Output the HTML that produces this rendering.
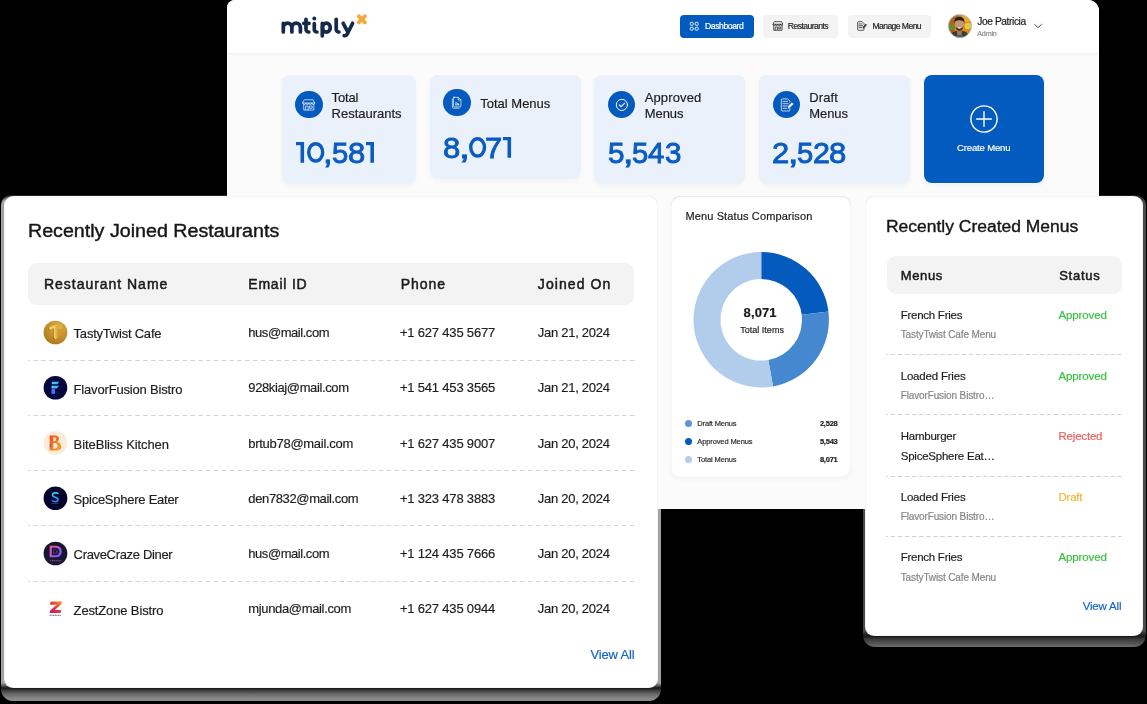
<!DOCTYPE html>
<html>
<head>
<meta charset="utf-8">
<title>mtiply dashboard</title>
<style>
*{box-sizing:border-box;margin:0;padding:0}
html,body{width:1147px;height:704px;overflow:hidden;background:#000}
body{position:relative;font-family:"Liberation Sans",sans-serif;color:#1c1c1c}
.abs{position:absolute}
.t{position:absolute;white-space:nowrap;line-height:1;transform-origin:0 50%;-webkit-text-stroke-width:.18px}
#main,.card{will-change:transform}
/* main back panel */
#main{position:absolute;left:227px;top:0;width:872px;height:509px;background:#fbfbfb;border-radius:8px 11px 0 0;overflow:hidden}
#hdr{position:absolute;left:0;top:0;width:872px;height:52.6px;background:#fff;box-shadow:0 1px 3px rgba(0,0,0,.05)}
.nav{position:absolute;top:15px;height:23px;border-radius:4px;background:#f3f3f3}
.nav.on{background:#045bbf}
.nav .t{font-size:8.6px;top:7px;letter-spacing:-.45px;color:#222}
.nav.on .t{color:#fff;-webkit-text-stroke:.2px #fff}
/* stat cards */
.stat{position:absolute;top:75px;background:#eaf1fa;border-radius:8px;box-shadow:0 2px 5px rgba(30,60,110,.045)}
.ic{position:absolute;width:27.3px;height:27.3px;margin:.15px;border-radius:50%;background:#045abd}
.ic svg{position:absolute;left:0;top:0}
.lbl{font-size:13px;color:#1d1d1d}
.num{font-size:29px;color:#0a5bc2;-webkit-text-stroke:.9px #0a5bc2}
/* floating cards */
.card{position:absolute;background:#fff;border-radius:9px}
#left{left:4px;top:196px;width:654.4px;height:492.4px;box-shadow:inset 0 0 1.5px rgba(0,0,0,.2)}
#right{left:865px;top:196px;width:278.2px;height:440px;box-shadow:inset 0 0 1.5px rgba(0,0,0,.2)}
#chart{left:671px;top:196px;width:180.2px;height:281.4px;border-radius:9px;box-shadow:inset 0 .5px 1.5px rgba(0,0,0,.17),0 2px 5px rgba(0,0,0,.04)}
.thead{position:absolute;background:#f3f3f3;border-radius:9px}
.th{color:#1b1b1b;-webkit-text-stroke:.5px #1b1b1b}
.dash{position:absolute;height:1px;background:repeating-linear-gradient(90deg,#d6d6d6 0 4.2px,transparent 4.2px 7.8px)}
.c13{font-size:13px;color:#1e1e1e}
.logo{position:absolute;width:24px;height:24px}
.logo svg{overflow:visible;display:block}
.link{color:#1565c8}
.shd{position:absolute;border-radius:10px 10px 12px 12px}
#shL{left:1px;top:195px;width:660.2px;height:506.4px;background:linear-gradient(to bottom,#1a1a1a 0,#a2a2a2 6px,#a2a2a2 488px,#161616 493px,#454545 496px,#707070 500px,#8a8a8a 504px,#8a8a8a 507px)}
#shR{left:862.6px;top:195px;width:283.6px;height:451.6px;background:linear-gradient(to bottom,#1a1a1a 0,#4a4a4a 6px,#4a4a4a 436px,#161616 441px,#383838 444px,#525252 448px,#6c6c6c 452px)}
</style>
</head>
<body>

<div class="shd" id="shL"></div>
<div class="shd" id="shR"></div>
<!-- ================= MAIN BACK PANEL ================= -->
<div id="main">
  <div id="hdr"></div>
  <svg class="abs" style="left:43px;top:0" width="120" height="52" viewBox="270 0 120 52" fill="none">
<g stroke="#16294a" stroke-width="3.7" stroke-linecap="round" stroke-linejoin="round">
<path d="M283.3 32V23.4M283.3 27.4a4.3 4.3 0 0 1 8.6 0V32M291.9 27.4a4.25 4.25 0 0 1 8.5 0V32"/>
<path d="M306 19.3V29.2a2.8 2.8 0 0 0 2.8 2.8M303.8 23.3H309"/>
<path d="M314.3 23.6V29.4a2.6 2.6 0 0 0 2.6 2.6"/>
<path d="M322.3 23.4V35.8"/>
<ellipse cx="326.4" cy="27.6" rx="3.9" ry="4.45"/>
<path d="M336.2 19.3V29.3a2.7 2.7 0 0 0 2.7 2.7"/>
<path d="M343.2 23.3L347.8 31.8M352.6 23.3L347.3 34Q346.3 36 344.2 35.7"/>
</g>
<circle cx="314.3" cy="18.5" r="1.95" fill="#16294a"/>
<path d="M358.9 16.4L364.9 22.4M364.9 16.4L358.9 22.4" stroke="#f6a93b" stroke-width="3.9" stroke-linecap="round"/>
</svg>
<div class="nav on" style="left:453.4px;width:73.4px"><svg class="abs" style="left:9px;top:6px" width="11" height="11" viewBox="0 0 11 11" fill="none" stroke="#fff" stroke-width=".9">
<rect x="1.3" y="1.3" width="3" height="3" rx=".9"/><rect x="6.2" y="1.3" width="3" height="3" rx=".9"/><rect x="1.3" y="6.2" width="3" height="3" rx=".9"/><rect x="6.2" y="6.2" width="3" height="3" rx=".9"/></svg><div class="t" style="left:24.7px;top:7px;letter-spacing:-0.422px">Dashboard</div></div>
<div class="nav" style="left:536.4px;width:74.9px"><svg class="abs" style="left:8.3px;top:6px" width="11.8" height="10" viewBox="0 0 13 11" fill="none" stroke="#2a2a2a" stroke-width=".85" stroke-linejoin="round">
<path d="M2.6 .7H10.4L12 3.6H1Z"/><path d="M1 3.6a1.37 1.37 0 0 0 2.75 0a1.37 1.37 0 0 0 2.75 0a1.37 1.37 0 0 0 2.75 0a1.37 1.37 0 0 0 2.75 0"/>
<path d="M1.9 5V10.2H11.1V5M3.6 10.2V6.6H5.9V10.2M7.3 6.6H9.6V8.6H7.3Z"/></svg><div class="t" style="left:24.4px;top:7px;letter-spacing:-0.547px">Restaurants</div></div>
<div class="nav" style="left:620.8px;width:83.1px"><svg class="abs" style="left:9.2px;top:6.4px" width="11" height="10.1" viewBox="0 0 12 11" fill="none" stroke="#2a2a2a" stroke-width=".85" stroke-linejoin="round" stroke-linecap="round">
<path d="M7.6 6.8V9.2a.9 .9 0 0 1-.9 .9H1.6a.9 .9 0 0 1-.9-.9V1.6a.9 .9 0 0 1 .9-.9H5.6L7.6 2.7V3.6"/>
<path d="M2.2 3.2H5.4M2.2 5.1H6M2.2 7H5.2"/><path d="M6.4 7.6L6.9 5.9L9.6 3.4L10.6 4.4L7.9 7Z" fill="#2a2a2a" stroke-width=".5"/></svg><div class="t" style="left:24.6px;top:7px;letter-spacing:-0.568px">Manage Menu</div></div>
<svg class="abs" style="left:721.4px;top:14.2px" width="24" height="24" viewBox="0 0 24 24">
<defs><clipPath id="av"><circle cx="12" cy="12" r="11.5"/></clipPath></defs>
<g clip-path="url(#av)">
<rect width="24" height="24" fill="#d88a1e"/>
<rect x="0" y="0" width="10" height="11" fill="#a86a1c"/>
<rect x="14" y="0" width="10" height="8" fill="#e9a92c"/>
<rect x="0" y="11" width="7" height="6" fill="#6f8a2e"/>
<rect x="0" y="16" width="6" height="4" fill="#c0541f"/>
<circle cx="19.8" cy="12" r="3.3" fill="#e6c83c"/>
<path d="M1.500 24C2.500 18.600 6 16.800 11.500 16.800S20.500 18.600 21.500 24Z" fill="#3e3c25"/>
<path d="M8.800 16.200h5.200l-.6 4.200h-4z" fill="#b07a56"/>
<path d="M8.800 20.200h5.400v4H8.800z" fill="#7f9296"/>
<path d="M9 21.400h5M9 22.800h5" stroke="#26323a" stroke-width=".7"/>
<ellipse cx="11.400" cy="10.400" rx="4.700" ry="5.800" fill="#c69572"/>
<path d="M6.500 9.400C5.900 4.400 8.600 2.800 11.400 2.800s5.700 1.600 4.900 6.600c-.5-2.100-1.500-3.200-4.900-3.200s-4.300 1-4.900 3.200z" fill="#2a2018"/>
<path d="M7.300 12.200c.5 3.300 2.200 4.700 4.100 4.700s3.600-1.400 4.100-4.700c-.9 1.700-2.200 2.200-4.100 2.200s-3.200-.5-4.100-2.200z" fill="#4e382b"/>
<path d="M9.700 13.200h3.400c-.3 .9-1 1.300-1.700 1.300s-1.400-.4-1.700-1.300z" fill="#f3ece4"/>
</g>
<circle cx="12" cy="12" r="11.6" fill="none" stroke="#9fc2ea" stroke-width=".7"/>
</svg>
<div class="t " style="left:750.20px;top:17.00px;font-size:10.2px;color:#1a1a1a;letter-spacing:-0.390px">Joe Patricia</div>
<div class="t " style="left:750.30px;top:30.00px;font-size:7.2px;color:#8a8a8a;letter-spacing:-0.227px">Admin</div>
<svg class="abs" style="left:805.9px;top:22px" width="10" height="8" viewBox="0 0 10 8" fill="none" stroke="#333" stroke-width=".9" stroke-linecap="round" stroke-linejoin="round"><path d="M1.6 2.4L5 5.700L8.400 2.400"/></svg>
  <div class="stat" style="left:55.0px;width:134.0px;height:109.0px"><div class="ic" style="left:13.2px;top:16.0px"><svg width="27.6" height="27.6" viewBox="0 0 27.6 27.6" fill="none" stroke="#fff" stroke-opacity=".93" stroke-linejoin="round" stroke-linecap="round" stroke-width=".8">
<g transform="translate(13.8 14) scale(.92) translate(-13.8 -14)"><path d="M9.3 8.300H18.300L20.300 11.800H7.300Z"/><path d="M7.3 11.800a1.620 1.620 0 0 0 3.250 0a1.620 1.620 0 0 0 3.250 0a1.620 1.620 0 0 0 3.250 0a1.620 1.620 0 0 0 3.250 0"/>
<path d="M8.300 13.400V19.500H19.300V13.400M10.400 19.500V15.200H13.100V19.500M14.800 15.200H17.500V17.600H14.800Z"/></g></svg></div><div class="t lbl" style="left:49.60px;top:16.00px;font-size:13px;letter-spacing:-0.165px">Total</div><div class="t lbl" style="left:49.60px;top:32.00px;font-size:13px;letter-spacing:-0.009px">Restaurants</div><svg class="abs" style="left:13.80px;top:67.25px;overflow:visible" width="10" height="22" viewBox="0 0 10 22"><path d="M0 0H8.10V20.700H4.50V3.350H0Z" fill="#0a5bc2"/></svg><svg class="abs" style="left:24.90px;top:67.25px;overflow:visible" width="20" height="22" viewBox="0 0 20 22"><ellipse cx="8.70" cy="10.350" rx="6.98" ry="8.700" fill="none" stroke="#0a5bc2" stroke-width="3.450"/></svg><div class="t num" style="left:41.02px;top:64px;transform:scaleX(1.188)">,</div><div class="t num" style="left:49.72px;top:64px;transform:scaleX(1.008)">5</div><div class="t num" style="left:66.11px;top:64px;transform:scaleX(1.069)">8</div><svg class="abs" style="left:84.10px;top:67.25px;overflow:visible" width="10" height="22" viewBox="0 0 10 22"><path d="M0 0H8.00V20.700H4.40V3.350H0Z" fill="#0a5bc2"/></svg></div>
<div class="stat" style="left:203.0px;width:150.8px;height:104.3px"><div class="ic" style="left:13.3px;top:13.5px"><svg width="27.600" height="27.600" viewBox="0 0 27.6 27.6" fill="none" stroke="#fff" stroke-opacity=".93" stroke-linejoin="round" stroke-linecap="round" stroke-width=".8"><g transform="translate(13.8 14) scale(.9) translate(-13.9 -14.2)">
<path d="M10.300 7.900H15.600L18.500 10.800V17.600a1 1 0 0 1-1 1H11.300a1 1 0 0 1-1-1V8.900a1 1 0 0 1 1-1Z"/><path d="M15.500 8V10.900H18.400"/>
<path d="M9 9.700V19a1 1 0 0 0 1 1H16.400"/><path d="M12.400 14.200h2.200l1.200 1.400M12.400 16.300H16.400" stroke-width="1.100"/></g></svg></div><div class="t lbl" style="left:50.30px;top:22.00px;font-size:13px;letter-spacing:-0.009px">Total Menus</div><div class="t num" style="left:13.21px;top:59px;transform:scaleX(1.069)">8</div><div class="t num" style="left:28.64px;top:59px;transform:scaleX(1.354)">,</div><svg class="abs" style="left:38.80px;top:62.25px;overflow:visible" width="20" height="22" viewBox="0 0 20 22"><ellipse cx="8.60" cy="10.350" rx="6.88" ry="8.700" fill="none" stroke="#0a5bc2" stroke-width="3.450"/></svg><div class="t num" style="left:55.40px;top:59px;transform:scaleX(1.064)">7</div><svg class="abs" style="left:72.60px;top:62.25px;overflow:visible" width="10" height="22" viewBox="0 0 10 22"><path d="M0 0H8.10V20.700H4.50V3.350H0Z" fill="#0a5bc2"/></svg></div>
<div class="stat" style="left:367.3px;width:151.1px;height:108.7px"><div class="ic" style="left:13.6px;top:16.0px"><svg width="27.600" height="27.600" viewBox="0 0 27.6 27.6" fill="none" stroke="#fff" stroke-opacity=".93" stroke-linejoin="round" stroke-linecap="round" stroke-width="1">
<circle cx="13.900" cy="13.900" r="5.600"/><path d="M11.400 14L13.200 15.700L16.500 12.300" stroke-width="1.200"/></svg></div><div class="t lbl" style="left:50.40px;top:16.00px;font-size:13px;letter-spacing:0.136px">Approved</div><div class="t lbl" style="left:50.40px;top:32.00px;font-size:13px;letter-spacing:-0.055px">Menus</div><div class="t num" style="left:13.41px;top:64px;transform:scaleX(1.022)">5</div><div class="t num" style="left:28.27px;top:64px;transform:scaleX(1.298)">,</div><div class="t num" style="left:37.22px;top:64px;transform:scaleX(1.008)">5</div><div class="t num" style="left:54.15px;top:64px;transform:scaleX(1.009)">4</div><div class="t num" style="left:70.54px;top:64px;transform:scaleX(1.017)">3</div></div>
<div class="stat" style="left:532.2px;width:151.0px;height:108.7px"><div class="ic" style="left:13.4px;top:16.0px"><svg width="27.600" height="27.600" viewBox="0 0 27.6 27.6" fill="none" stroke="#fff" stroke-opacity=".93" stroke-linejoin="round" stroke-linecap="round" stroke-width=".8">
<path d="M16.900 17.500V19a1 1 0 0 1-1 1H9.300a1 1 0 0 1-1-1V8.900a1 1 0 0 1 1-1H14.700L16.900 10.100V11.200"/>
<path d="M10 10.400H14.500M10 12.700H15.200M10 15H14.200M10 17.300H13.400"/><path d="M15 17.300L15.700 14.800L19 11.700L20.300 13L17 16.300Z" fill="#fff" stroke-width=".5"/></svg></div><div class="t lbl" style="left:50.00px;top:16.00px;font-size:13px;letter-spacing:0.157px">Draft</div><div class="t lbl" style="left:50.00px;top:32.00px;font-size:13px;letter-spacing:-0.055px">Menus</div><div class="t num" style="left:13.11px;top:64px;transform:scaleX(1.063)">2</div><div class="t num" style="left:28.37px;top:64px;transform:scaleX(1.298)">,</div><div class="t num" style="left:37.32px;top:64px;transform:scaleX(1.008)">5</div><div class="t num" style="left:53.33px;top:64px;transform:scaleX(1.048)">2</div><div class="t num" style="left:69.41px;top:64px;transform:scaleX(1.069)">8</div></div>
<div class="abs" style="left:696.9px;top:75.2px;width:119.8px;height:107.6px;background:#045bbf;border-radius:8px;box-shadow:0 2px 5px rgba(30,60,110,.05)"><svg class="abs" style="left:44.8px;top:28.8px" width="30" height="30" viewBox="0 0 30 30" fill="none" stroke="#fff" stroke-width="1.40" stroke-linecap="round"><circle cx="15" cy="15" r="13.1"/><path d="M7.700 15H22.300M15 7.700V22.300"/></svg><div class="t " style="left:33.20px;top:67.80px;font-size:9.5px;color:#fff;letter-spacing:-0.152px">Create Menu</div></div>
</div>

<!-- ================= CHART CARD ================= -->
<div class="card" id="chart">
  <div class="t " style="left:14.40px;top:15.00px;font-size:11px;color:#1a1a1a;letter-spacing:0.133px">Menu Status Comparison</div>
<svg class="abs" style="left:0;top:0" width="180" height="281" viewBox="0 0 180 281"><path d="M90.25 56.10A67.70 67.70 0 0 1 157.45 115.55L130.75 118.83A40.80 40.80 0 0 0 90.25 83.00Z" fill="#045abd"/><path d="M157.45 115.55A67.70 67.70 0 0 1 102.01 190.47L97.33 163.98A40.80 40.80 0 0 0 130.75 118.83Z" fill="#4588d0"/><path d="M102.01 190.47A67.70 67.70 0 1 1 90.25 56.10L90.25 83.00A40.80 40.80 0 1 0 97.33 163.98Z" fill="#b1cdeb"/></svg>
<div class="t " style="left:72.60px;top:110.00px;font-size:13px;font-weight:bold;color:#1a1a1a;letter-spacing:0.117px">8,071</div>
<div class="t " style="left:69.20px;top:130.00px;font-size:9px;color:#222;letter-spacing:0.019px">Total Items</div>
<div class="abs" style="left:13.9px;top:224.1px;width:7.2px;height:7.2px;border-radius:50%;background:#5b97d8"></div>
<div class="t " style="left:26.30px;top:224.00px;font-size:7.5px;color:#2a2a2a;letter-spacing:-0.155px">Draft Menus</div>
<div class="t " style="left:148.90px;top:224.00px;font-size:7.5px;font-weight:bold;color:#1a1a1a;letter-spacing:-0.217px">2,528</div>
<div class="abs" style="left:13.9px;top:242.1px;width:7.2px;height:7.2px;border-radius:50%;background:#045abd"></div>
<div class="t " style="left:26.30px;top:242.00px;font-size:7.5px;color:#2a2a2a;letter-spacing:-0.115px">Approved Menus</div>
<div class="t " style="left:148.90px;top:242.00px;font-size:7.5px;font-weight:bold;color:#1a1a1a;letter-spacing:-0.217px">5,543</div>
<div class="abs" style="left:13.9px;top:260.1px;width:7.2px;height:7.2px;border-radius:50%;background:#b1cdeb"></div>
<div class="t " style="left:26.30px;top:260.00px;font-size:7.5px;color:#2a2a2a;letter-spacing:-0.114px">Total Menus</div>
<div class="t " style="left:148.90px;top:260.00px;font-size:7.5px;font-weight:bold;color:#1a1a1a;letter-spacing:-0.217px">8,071</div>
</div>

<!-- ================= LEFT CARD ================= -->
<div class="card" id="left">
  <div class="t " style="left:23.60px;top:26.00px;font-size:18px;color:#161616;transform:scaleX(1.0916);-webkit-text-stroke:.4px #161616">Recently Joined Restaurants</div>
<div class="thead" style="left:23.8px;top:66.7px;width:606.6px;height:42.1px"></div>
<div class="t th" style="left:40.00px;top:81.00px;font-size:14px;letter-spacing:0.970px">Restaurant Name</div>
<div class="t th" style="left:244.30px;top:81.00px;font-size:14px;letter-spacing:0.786px">Email ID</div>
<div class="t th" style="left:396.70px;top:81.00px;font-size:14px;letter-spacing:0.979px">Phone</div>
<div class="t th" style="left:533.80px;top:81.00px;font-size:14px;letter-spacing:1.085px">Joined On</div>
<div class="logo" style="left:39px;top:124px"><svg width="24" height="24" viewBox="-.45 -0.50 24 24"><defs><radialGradient id="g1" cx=".62" cy=".25" r=".85"><stop offset="0" stop-color="#dcae45"/><stop offset=".55" stop-color="#c48f2b"/><stop offset="1" stop-color="#a8741c"/></radialGradient><linearGradient id="g1b" x1="0" y1="0" x2="1" y2="0"><stop offset="0" stop-color="#a87420"/><stop offset=".45" stop-color="#f6d66e"/><stop offset="1" stop-color="#d9a838"/></linearGradient></defs><circle cx="12" cy="12" r="11.85" fill="url(#g1)"/><path d="M5.300 7.700C7.400 5.600 10 5.100 11.900 5.100C14 5.100 16.600 5.500 18.300 7.100L16.700 9.500C15.500 8.300 14.400 7.900 13.700 7.900L13.900 17L12 19.300L10.200 17L10.400 7.900C9.500 7.900 8.200 8.400 7 9.800Z" fill="#7c5210" opacity=".75" transform="translate(-.55 .45)"/><path d="M5.300 7.700C7.400 5.600 10 5.100 11.900 5.100C14 5.100 16.600 5.500 18.300 7.100L16.700 9.500C15.500 8.300 14.400 7.900 13.700 7.900L13.900 17L12 19.300L10.200 17L10.400 7.900C9.500 7.900 8.200 8.400 7 9.800Z" fill="#f3d166"/><path d="M12 5.100C14 5.100 16.600 5.500 18.300 7.100L16.700 9.500C15.500 8.300 14.400 7.900 13.700 7.900L13.900 17L12 19.300Z" fill="#dfb040"/></svg></div>
<div class="t c13" style="left:69.60px;top:131.00px;font-size:13px;letter-spacing:-0.223px">TastyTwist Cafe</div>
<div class="t c13" style="left:244.30px;top:130.00px;font-size:13px;letter-spacing:-0.451px">hus@mail.com</div>
<div class="t c13" style="left:395.90px;top:130.00px;font-size:13px;letter-spacing:-0.190px">+1 627 435 5677</div>
<div class="t c13" style="left:533.80px;top:130.00px;font-size:13px;letter-spacing:-0.280px">Jan 21, 2024</div>
<svg class="abs" style="left:23.6px;top:164px" width="608" height="1" viewBox="0 0 608 1"><path d="M0 .5H607.3" stroke="#d3d3d3" stroke-width="1" stroke-dasharray="4.600 3.250" stroke-dashoffset="2.600"/></svg>
<div class="logo" style="left:39px;top:179px"><svg width="24" height="24" viewBox="-.45 -0.75 24 24"><defs><linearGradient id="g2" x1="0" y1="0" x2="1" y2="1"><stop offset="0" stop-color="#4fdcff"/><stop offset="1" stop-color="#2e9cf2"/></linearGradient><linearGradient id="g2b" x1="0" y1="0" x2="0" y2="1"><stop offset="0" stop-color="#5a55ff"/><stop offset="1" stop-color="#3c92ff"/></linearGradient></defs><circle cx="12" cy="12" r="11.85" fill="#05053f"/><path d="M8.600 5.900H15.600L14.300 8.500H8.100Z" fill="url(#g2)"/><path d="M8.100 10H15.600L13.400 12.800H8.100Z" fill="url(#g2)"/><path d="M8.100 12.800H11.400V18H8.100Z" fill="url(#g2b)"/></svg></div>
<div class="t c13" style="left:69.60px;top:187.00px;font-size:13px;letter-spacing:-0.177px">FlavorFusion Bistro</div>
<div class="t c13" style="left:244.30px;top:185.00px;font-size:13px;letter-spacing:-0.380px">928kiaj@mail.com</div>
<div class="t c13" style="left:395.90px;top:185.00px;font-size:13px;letter-spacing:-0.190px">+1 541 453 3565</div>
<div class="t c13" style="left:533.80px;top:185.00px;font-size:13px;letter-spacing:-0.280px">Jan 21, 2024</div>
<svg class="abs" style="left:23.6px;top:219px" width="608" height="1" viewBox="0 0 608 1"><path d="M0 .5H607.3" stroke="#d3d3d3" stroke-width="1" stroke-dasharray="4.600 3.250" stroke-dashoffset="2.600"/></svg>
<div class="logo" style="left:39px;top:235px"><svg width="24" height="24" viewBox="-.45 -0.00 24 24"><defs><linearGradient id="g3" x1="0" y1="0" x2="1" y2="1"><stop offset="0" stop-color="#f4491c"/><stop offset=".55" stop-color="#fb7d1c"/><stop offset="1" stop-color="#ffa428"/></linearGradient></defs><circle cx="12" cy="12" r="11.85" fill="#f9edda"/><path d="M6.200 4.400H11.600C14.200 4.400 15.600 5.800 15.600 7.700C15.600 9.300 14.700 10.400 13.300 10.900C16 11.300 17.800 12.800 17.800 15.200C17.800 17.900 15.700 19.600 12.500 19.600H6.200ZM9.900 6.300V10.200H10.800C12 10.200 12.600 9.400 12.600 8.200C12.600 7 12 6.300 10.900 6.300ZM9.900 12V17.700H11.300C13.200 17.700 14.100 16.600 14.100 14.800C14.100 13 13.100 12 11.300 12Z" fill="url(#g3)"/><path d="M6.200 13.200L7.600 12.200V15.400L6.200 16.800Z" fill="#5a6ad8" opacity=".8"/><circle cx="16.900" cy="17.600" r=".7" fill="#6a7ae0" opacity=".7"/></svg></div>
<div class="t c13" style="left:69.60px;top:242.00px;font-size:13px;letter-spacing:-0.089px">BiteBliss Kitchen</div>
<div class="t c13" style="left:244.30px;top:241.00px;font-size:13px;letter-spacing:-0.286px">brtub78@mail.com</div>
<div class="t c13" style="left:395.90px;top:241.00px;font-size:13px;letter-spacing:-0.190px">+1 627 435 9007</div>
<div class="t c13" style="left:533.80px;top:241.00px;font-size:13px;letter-spacing:-0.280px">Jan 20, 2024</div>
<svg class="abs" style="left:23.6px;top:274px" width="608" height="1" viewBox="0 0 608 1"><path d="M0 .5H607.3" stroke="#d3d3d3" stroke-width="1" stroke-dasharray="4.600 3.250" stroke-dashoffset="2.600"/></svg>
<div class="logo" style="left:39px;top:290px"><svg width="24" height="24" viewBox="-.45 -0.25 24 24"><defs><linearGradient id="g4" x1="0" y1="0" x2="0" y2="1"><stop offset="0" stop-color="#22d8f6"/><stop offset="1" stop-color="#1c8cff"/></linearGradient></defs><circle cx="12" cy="12" r="11.850" fill="#03032b"/><path d="M14.600 7.200C13.900 6.800 13 6.600 12 6.600C10.200 6.600 9 7.500 9 8.800C9 10.100 10 10.600 11.800 11C13.600 11.400 14.600 12 14.600 13.300C14.600 14.600 13.400 15.400 11.700 15.400C10.600 15.400 9.600 15.100 8.800 14.500" fill="none" stroke="url(#g4)" stroke-width="1.550" stroke-linecap="round"/><path d="M7.800 17.100H15.200" stroke="#8d93b8" stroke-width=".55" opacity=".7"/></svg></div>
<div class="t c13" style="left:69.60px;top:297.00px;font-size:13px;letter-spacing:-0.251px">SpiceSphere Eater</div>
<div class="t c13" style="left:244.30px;top:296.00px;font-size:13px;letter-spacing:-0.368px">den7832@mail.com</div>
<div class="t c13" style="left:395.90px;top:296.00px;font-size:13px;letter-spacing:-0.190px">+1 323 478 3883</div>
<div class="t c13" style="left:533.80px;top:296.00px;font-size:13px;letter-spacing:-0.280px">Jan 20, 2024</div>
<svg class="abs" style="left:23.6px;top:329px" width="608" height="1" viewBox="0 0 608 1"><path d="M0 .5H607.3" stroke="#d3d3d3" stroke-width="1" stroke-dasharray="4.600 3.250" stroke-dashoffset="2.600"/></svg>
<div class="logo" style="left:39px;top:345px"><svg width="24" height="24" viewBox="-.45 -0.50 24 24"><defs><linearGradient id="g5" x1="0" y1="0" x2="1" y2="1"><stop offset="0" stop-color="#f5528c"/><stop offset=".55" stop-color="#b455dc"/><stop offset="1" stop-color="#4a5cff"/></linearGradient></defs><circle cx="12" cy="12" r="11.850" fill="#15162f"/><path d="M6.200 4.200H12.200C16 4.200 18.300 6.500 18.300 10C18.300 13.500 16 15.800 12.200 15.800H6.200ZM8.400 6.300V13.700H12C14.500 13.700 16 12.300 16 10C16 7.700 14.500 6.300 12 6.300Z" fill="url(#g5)"/><path d="M9.600 7.700H12C13.500 7.700 14.500 8.600 14.500 10C14.500 11.400 13.500 12.300 12 12.300H9.600Z" fill="#3a2f7a"/><path d="M10.800 8.800H12.600V11H10.800Z" fill="#15162f"/><path d="M6.500 18.900H18.200" stroke="#c04a7e" stroke-width=".9" stroke-dasharray="1.500 .4" opacity=".85"/><path d="M6.800 20.400H17.600" stroke="#3a4ac0" stroke-width=".5" opacity=".8"/></svg></div>
<div class="t c13" style="left:69.60px;top:352.00px;font-size:13px;letter-spacing:-0.335px">CraveCraze Diner</div>
<div class="t c13" style="left:244.30px;top:351.00px;font-size:13px;letter-spacing:-0.451px">hus@mail.com</div>
<div class="t c13" style="left:395.90px;top:351.00px;font-size:13px;letter-spacing:-0.190px">+1 124 435 7666</div>
<div class="t c13" style="left:533.80px;top:351.00px;font-size:13px;letter-spacing:-0.280px">Jan 20, 2024</div>
<svg class="abs" style="left:23.6px;top:385px" width="608" height="1" viewBox="0 0 608 1"><path d="M0 .5H607.3" stroke="#d3d3d3" stroke-width="1" stroke-dasharray="4.600 3.250" stroke-dashoffset="2.600"/></svg>
<div class="logo" style="left:39px;top:400px;border-radius:0"><svg width="24" height="24" viewBox="-.45 -0.75 24 24"><defs><linearGradient id="g6" x1="0" y1="1" x2="1" y2="0"><stop offset="0" stop-color="#c0156c"/><stop offset=".5" stop-color="#e83a3a"/><stop offset="1" stop-color="#ff9a2c"/></linearGradient></defs><path d="M7.300 4.800H18.600L17.800 7.500L11.300 13.200H17.900L17 16.300H6.100L6.900 13.400L13.300 8H6.400Z" fill="url(#g6)"/><path d="M6.200 18.500H17.600" stroke="#4a4a4a" stroke-width="1" stroke-dasharray="1.300 .35" opacity=".8"/></svg></div>
<div class="t c13" style="left:69.60px;top:408.00px;font-size:13px;letter-spacing:-0.140px">ZestZone Bistro</div>
<div class="t c13" style="left:244.30px;top:406.00px;font-size:13px;letter-spacing:-0.346px">mjunda@mail.com</div>
<div class="t c13" style="left:395.90px;top:406.00px;font-size:13px;letter-spacing:-0.190px">+1 627 435 0944</div>
<div class="t c13" style="left:533.80px;top:406.00px;font-size:13px;letter-spacing:-0.280px">Jan 20, 2024</div>
<div class="t link" style="left:586.50px;top:452.00px;font-size:13px;letter-spacing:-0.155px">View All</div>
</div>

<!-- ================= RIGHT CARD ================= -->
<div class="card" id="right">
  <div class="t " style="left:21.00px;top:23.00px;font-size:16px;color:#161616;transform:scaleX(1.0915);-webkit-text-stroke:.35px #161616">Recently Created Menus</div>
<div class="thead" style="left:21.5px;top:60.0px;width:235.4px;height:37.7px"></div>
<div class="t th" style="left:35.70px;top:73.00px;font-size:13px;letter-spacing:0.645px">Menus</div>
<div class="t th" style="left:194.20px;top:73.00px;font-size:13px;letter-spacing:0.729px">Status</div>
<div class="t " style="left:35.70px;top:114.00px;font-size:11.5px;color:#1e1e1e;letter-spacing:-0.258px">French Fries</div>
<div class="t " style="left:193.50px;top:114.00px;font-size:11.5px;color:#35c13f;letter-spacing:-0.118px">Approved</div>
<div class="t " style="left:35.70px;top:134.00px;font-size:10px;color:#858585;letter-spacing:-0.122px">TastyTwist Cafe Menu</div>
<div class="t " style="left:35.70px;top:175.00px;font-size:11.5px;color:#1e1e1e;letter-spacing:-0.193px">Loaded Fries</div>
<div class="t " style="left:193.50px;top:175.00px;font-size:11.5px;color:#35c13f;letter-spacing:-0.118px">Approved</div>
<div class="t " style="left:35.70px;top:195.00px;font-size:10px;color:#858585;letter-spacing:-0.128px">FlavorFusion Bistro…</div>
<div class="t " style="left:35.70px;top:235.00px;font-size:11.5px;color:#1e1e1e;letter-spacing:-0.240px">Hamburger</div>
<div class="t " style="left:193.50px;top:235.00px;font-size:11.5px;color:#ee5d5d;letter-spacing:-0.198px">Rejected</div>
<div class="t " style="left:35.70px;top:255.00px;font-size:11.5px;color:#1e1e1e;letter-spacing:-0.227px">SpiceSphere Eat…</div>
<div class="t " style="left:35.70px;top:296.00px;font-size:11.5px;color:#1e1e1e;letter-spacing:-0.193px">Loaded Fries</div>
<div class="t " style="left:193.50px;top:296.00px;font-size:11.5px;color:#f3b72f;letter-spacing:-0.230px">Draft</div>
<div class="t " style="left:35.70px;top:316.00px;font-size:10px;color:#858585;letter-spacing:-0.128px">FlavorFusion Bistro…</div>
<div class="t " style="left:35.70px;top:356.00px;font-size:11.5px;color:#1e1e1e;letter-spacing:-0.258px">French Fries</div>
<div class="t " style="left:193.50px;top:356.00px;font-size:11.5px;color:#35c13f;letter-spacing:-0.118px">Approved</div>
<div class="t " style="left:35.70px;top:377.00px;font-size:10px;color:#858585;letter-spacing:-0.122px">TastyTwist Cafe Menu</div>
<svg class="abs" style="left:21.3px;top:158px" width="236" height="1" viewBox="0 0 236 1"><path d="M0 .5H235.6" stroke="#d3d3d3" stroke-width="1" stroke-dasharray="4.400 2.700" stroke-dashoffset="2.400"/></svg>
<svg class="abs" style="left:21.3px;top:218px" width="236" height="1" viewBox="0 0 236 1"><path d="M0 .5H235.6" stroke="#d3d3d3" stroke-width="1" stroke-dasharray="4.400 2.700" stroke-dashoffset="2.400"/></svg>
<svg class="abs" style="left:21.3px;top:280px" width="236" height="1" viewBox="0 0 236 1"><path d="M0 .5H235.6" stroke="#d3d3d3" stroke-width="1" stroke-dasharray="4.400 2.700" stroke-dashoffset="2.400"/></svg>
<svg class="abs" style="left:21.3px;top:340px" width="236" height="1" viewBox="0 0 236 1"><path d="M0 .5H235.6" stroke="#d3d3d3" stroke-width="1" stroke-dasharray="4.400 2.700" stroke-dashoffset="2.400"/></svg>
<div class="t link" style="left:217.70px;top:405.00px;font-size:11.5px;letter-spacing:-0.180px">View All</div>
</div>

</body>
</html>
